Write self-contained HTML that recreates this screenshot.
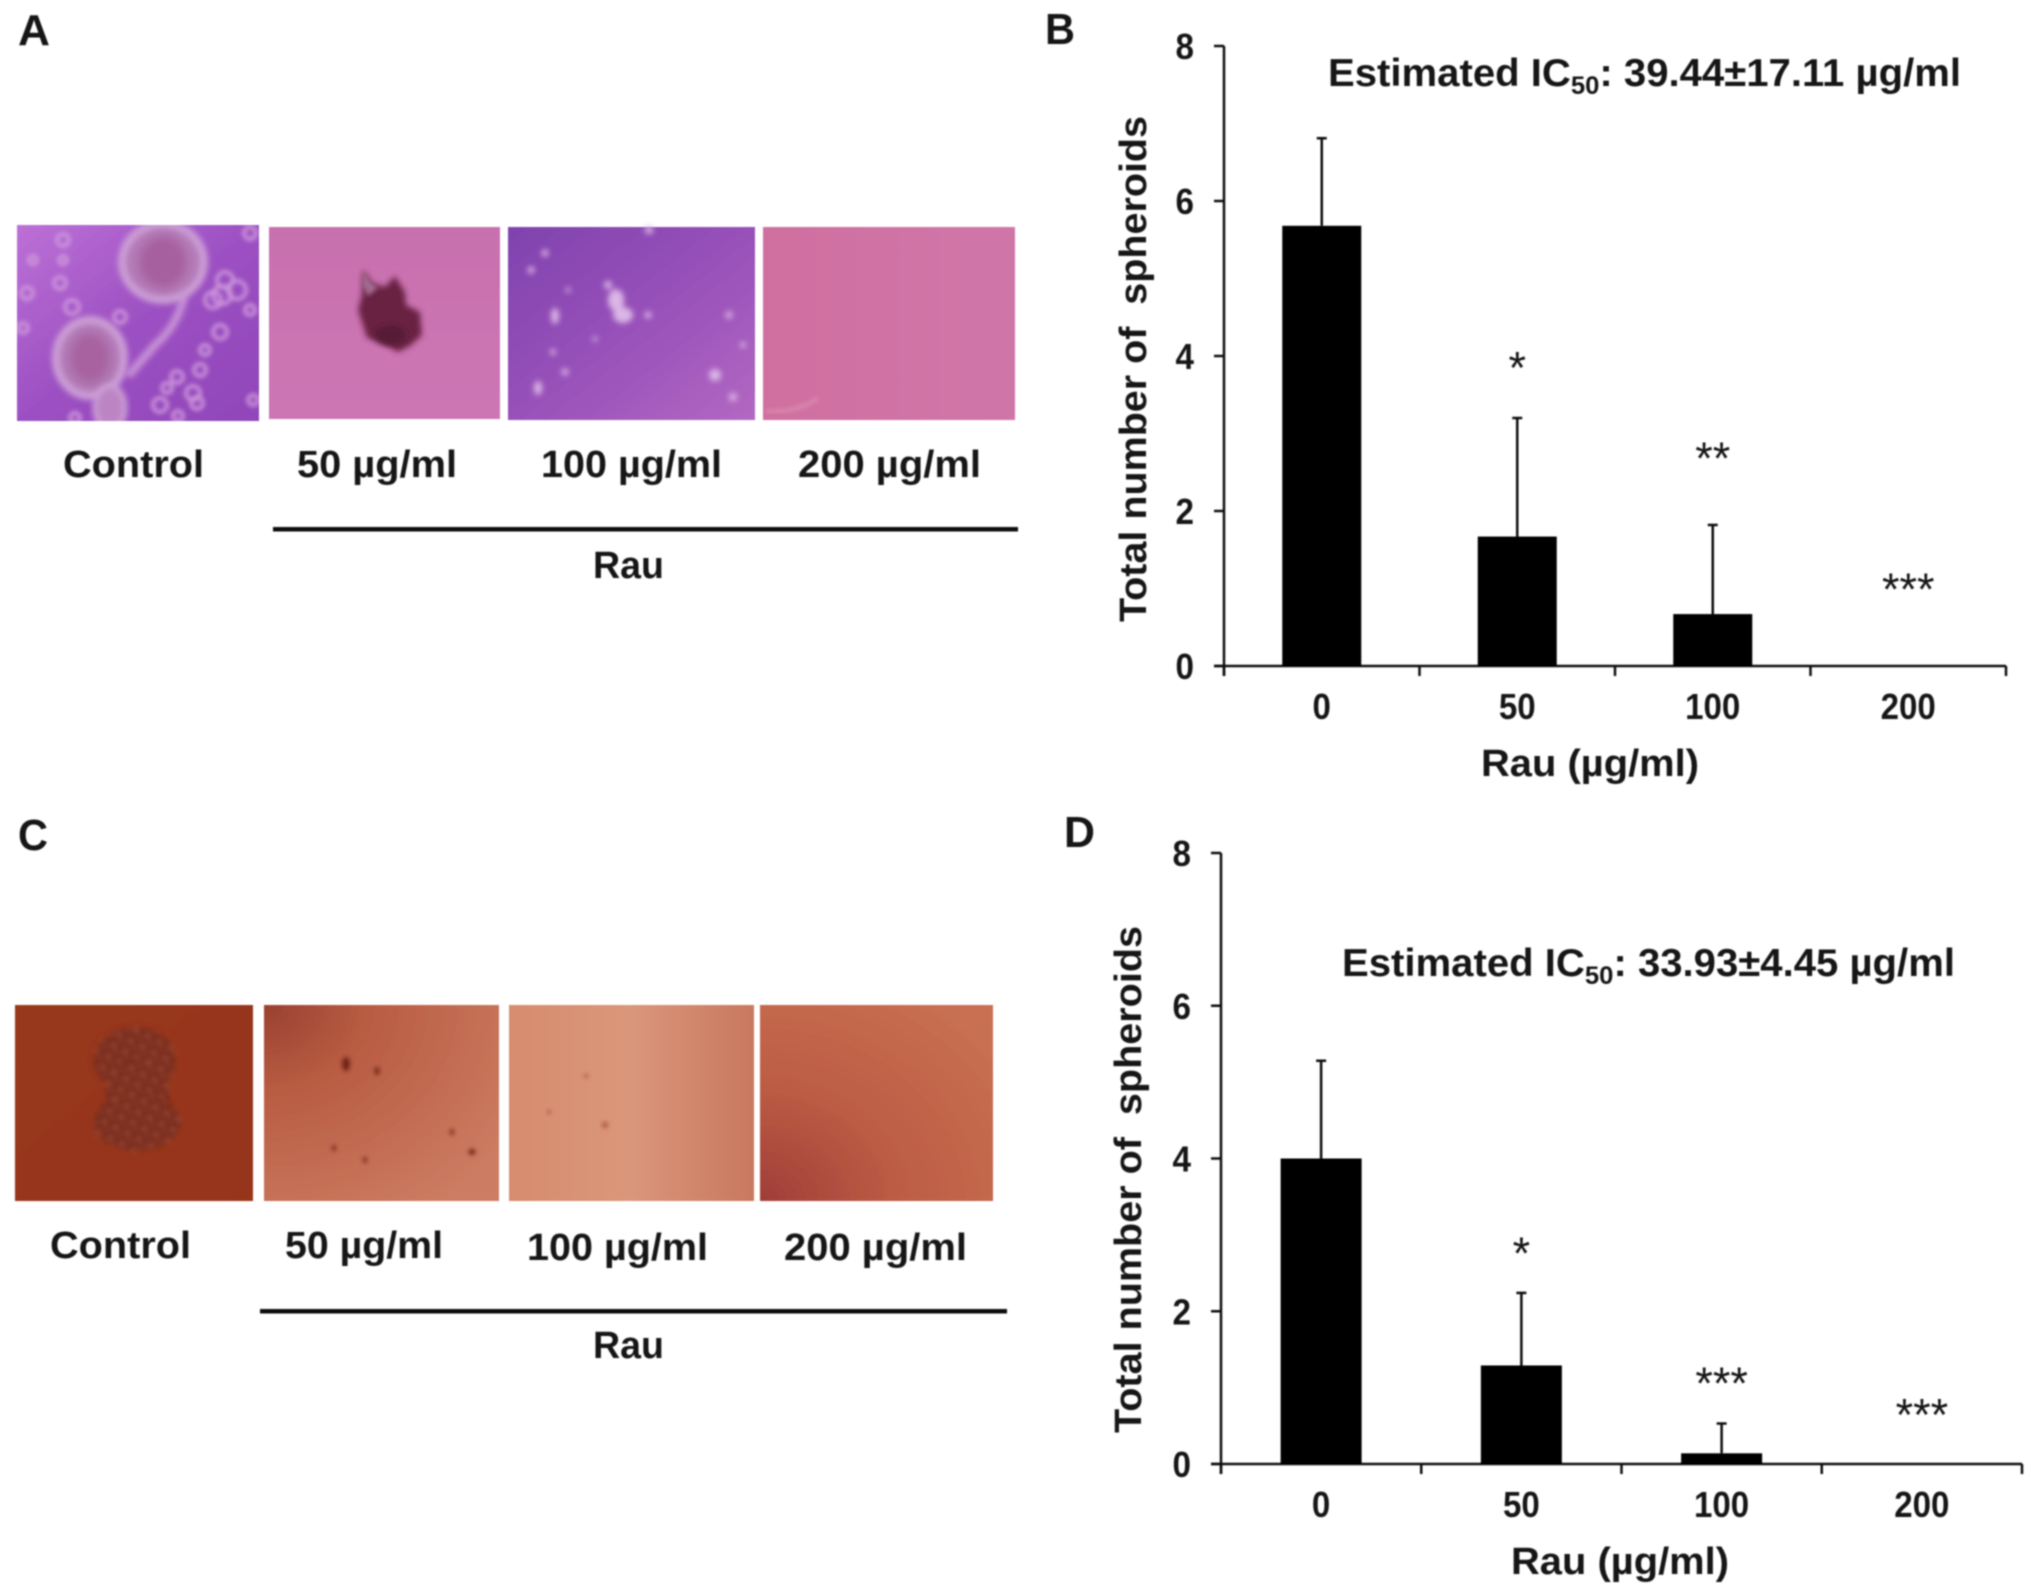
<!DOCTYPE html>
<html lang="en">
<head>
<meta charset="utf-8">
<title>Rau spheroid formation assay</title>
<style>
html,body{margin:0;padding:0;background:#fff;width:2031px;height:1592px;overflow:hidden}
svg{display:block}
text{font-family:"Liberation Sans",Arial,sans-serif;font-weight:700;fill:#141414}
</style>
</head>
<body>
<svg id="figure" xmlns="http://www.w3.org/2000/svg" width="2031" height="1592" viewBox="0 0 2031 1592">
<defs>
  <filter id="soft" x="-2%" y="-2%" width="104%" height="104%"><feGaussianBlur stdDeviation="0.7"/></filter>
  <filter id="b2" x="-20%" y="-20%" width="140%" height="140%"><feGaussianBlur stdDeviation="2"/></filter>
  <filter id="b3" x="-20%" y="-20%" width="140%" height="140%"><feGaussianBlur stdDeviation="3"/></filter>
  <filter id="b5" x="-30%" y="-30%" width="160%" height="160%"><feGaussianBlur stdDeviation="5"/></filter>
  <linearGradient id="ga1" x1="0" y1="0" x2="1" y2="1"><stop offset="0" stop-color="#bc70d6"/><stop offset=".5" stop-color="#9c50c2"/><stop offset="1" stop-color="#8f45b8"/></linearGradient>
  <linearGradient id="ga2" x1="0" y1="0" x2="0" y2="1"><stop offset="0" stop-color="#c870ae"/><stop offset="1" stop-color="#cc76b4"/></linearGradient>
  <linearGradient id="ga3" x1="0" y1="0" x2="1" y2="1"><stop offset="0" stop-color="#7f42ae"/><stop offset=".55" stop-color="#9a52ba"/><stop offset="1" stop-color="#b268c2"/></linearGradient>
  <linearGradient id="ga4" x1="0" y1="0" x2="1" y2="0"><stop offset="0" stop-color="#cf6fa0"/><stop offset="1" stop-color="#d075a8"/></linearGradient>
  <linearGradient id="gc1" x1="0" y1="0" x2="1" y2="1"><stop offset="0" stop-color="#97371f"/><stop offset="1" stop-color="#973519"/></linearGradient>
  <radialGradient id="gc2" cx="0" cy="0" r="1.25"><stop offset="0" stop-color="#9a4030"/><stop offset=".35" stop-color="#b85c42"/><stop offset="1" stop-color="#cc7c62"/></radialGradient>
  <linearGradient id="gc3" x1="0" y1="0" x2="1" y2="0"><stop offset="0" stop-color="#d68c6e"/><stop offset=".5" stop-color="#da967a"/><stop offset="1" stop-color="#c8785e"/></linearGradient>
  <radialGradient id="gc4" cx="0" cy="1" r="1.3"><stop offset="0" stop-color="#a03d38"/><stop offset=".45" stop-color="#bc5c44"/><stop offset="1" stop-color="#c97052"/></radialGradient>
  <pattern id="cells" width="13" height="12" patternUnits="userSpaceOnUse" patternTransform="rotate(27)"><rect width="13" height="12" fill="#74281a"/><circle cx="4" cy="4" r="3" fill="#a04c34"/><circle cx="10" cy="9" r="2.4" fill="#96442c"/></pattern>
  <clipPath id="clipA1"><rect x="17" y="225" width="242" height="196"/></clipPath>
</defs>
<g id="root" filter="url(#soft)">
  <text x="18" y="45" font-size="44" textLength="32" lengthAdjust="spacingAndGlyphs">A</text>
  <text x="1045" y="44" font-size="44" textLength="30" lengthAdjust="spacingAndGlyphs">B</text>
  <text x="18" y="850" font-size="44" textLength="30" lengthAdjust="spacingAndGlyphs">C</text>
  <text x="1064" y="847" font-size="44" textLength="31" lengthAdjust="spacingAndGlyphs">D</text>

  <g clip-path="url(#clipA1)">
    <rect x="17" y="225" width="242" height="196" fill="url(#ga1)"/>
    <g fill="none" stroke="#cf98dc" stroke-width="3.5" filter="url(#b2)">
      <circle cx="60" cy="283" r="6"/><circle cx="72" cy="307" r="7"/><circle cx="120" cy="317" r="6"/><circle cx="27" cy="293" r="6"/><circle cx="63" cy="240" r="6"/><circle cx="250" cy="233" r="6"/><circle cx="63" cy="260" r="4"/><circle cx="33" cy="260" r="4"/><circle cx="220" cy="332" r="7"/><circle cx="200" cy="370" r="6"/><circle cx="177" cy="377" r="6"/><circle cx="167" cy="388" r="5"/><circle cx="193" cy="393" r="7"/><circle cx="197" cy="403" r="6"/><circle cx="160" cy="405" r="7"/><circle cx="253" cy="400" r="5"/><circle cx="23" cy="328" r="5"/><circle cx="237" cy="290" r="9"/><circle cx="213" cy="300" r="8"/><circle cx="225" cy="280" r="8"/><circle cx="222" cy="295" r="9"/><circle cx="250" cy="310" r="5"/><circle cx="205" cy="350" r="5"/><circle cx="75" cy="418" r="5"/><circle cx="178" cy="416" r="5"/>
    </g>
    <path d="M184 296 Q178 325 155 345 L128 376" stroke="#c690d6" stroke-width="8" fill="none" filter="url(#b3)"/>
    <ellipse cx="163" cy="262" rx="41" ry="38" fill="#b47cb8" stroke="#cc9ed6" stroke-width="8" filter="url(#b3)"/>
    <ellipse cx="163" cy="262" rx="24" ry="26" fill="#a65f9f" filter="url(#b5)"/>
    <ellipse cx="90" cy="358" rx="34" ry="38" fill="#b27cb8" stroke="#cc9ed6" stroke-width="8" filter="url(#b3)"/>
    <ellipse cx="90" cy="358" rx="20" ry="25" fill="#a7629f" filter="url(#b5)"/>
    <ellipse cx="110" cy="408" rx="15" ry="22" fill="#bc84c2" stroke="#cc9ed6" stroke-width="5" filter="url(#b3)"/>
  </g>
  <g>
    <rect x="269" y="227" width="231" height="192" fill="url(#ga2)"/>
    <path d="M363 270 L372 283 L385 287 L395 276 L405 292 L406 305 L420 312 L422 335 L410 346 L398 352 L380 342 L367 338 L358 310 L362 295 Z" fill="#6a2443" filter="url(#b3)"/>
    <path d="M363 270 L372 283 L378 288 L368 296 L362 285 Z" fill="#a36a90" filter="url(#b2)"/>
    <ellipse cx="390" cy="335" rx="16" ry="10" fill="#561a34" filter="url(#b3)"/>
  </g>
  <g>
    <rect x="508" y="227" width="247" height="193" fill="url(#ga3)"/>
    <g fill="#dcb6e6" filter="url(#b3)">
      <circle cx="649" cy="230" r="4"/><circle cx="545" cy="253" r="3.5"/><circle cx="531" cy="270" r="3.5"/><circle cx="608" cy="285" r="4"/><ellipse cx="616" cy="300" rx="8" ry="11"/><ellipse cx="623" cy="315" rx="10" ry="8"/><circle cx="648" cy="315" r="3.5"/><ellipse cx="555" cy="316" rx="4" ry="8"/><circle cx="568" cy="290" r="2.5"/><circle cx="729" cy="315" r="3.5"/><circle cx="595" cy="339" r="2.5"/><circle cx="553" cy="352" r="3"/><circle cx="743" cy="345" r="3"/><circle cx="565" cy="372" r="3.5"/><ellipse cx="715" cy="375" rx="6" ry="6"/><ellipse cx="538" cy="388" rx="4" ry="7"/><circle cx="733" cy="397" r="4"/>
    </g>
  </g>
  <g>
    <rect x="763" y="227" width="252" height="193" fill="url(#ga4)"/>
    <path d="M766 411 Q798 413 818 398" stroke="#dd8fb0" stroke-width="3" fill="none" filter="url(#b2)"/>
  </g>

  <text x="63" y="477" font-size="38" textLength="141" lengthAdjust="spacingAndGlyphs">Control</text>
  <text x="297" y="477" font-size="38" textLength="160" lengthAdjust="spacingAndGlyphs">50 µg/ml</text>
  <text x="541" y="477" font-size="38" textLength="181" lengthAdjust="spacingAndGlyphs">100 µg/ml</text>
  <text x="798" y="477" font-size="38" textLength="183" lengthAdjust="spacingAndGlyphs">200 µg/ml</text>
  <rect x="273" y="527" width="745" height="4.5" fill="#111"/>
  <text x="593" y="578" font-size="38" textLength="71" lengthAdjust="spacingAndGlyphs">Rau</text>

  <g>
    <rect x="15" y="1005" width="238" height="196" fill="url(#gc1)"/>
    <ellipse cx="135" cy="1060" rx="41" ry="33" fill="url(#cells)" filter="url(#b3)"/>
    <ellipse cx="138" cy="1095" rx="32" ry="36" fill="url(#cells)" filter="url(#b3)"/>
    <ellipse cx="137" cy="1123" rx="44" ry="28" fill="url(#cells)" filter="url(#b3)"/>
  </g>
  <g>
    <rect x="264" y="1005" width="235" height="196" fill="url(#gc2)"/>
    <g fill="#6d2418" filter="url(#b2)">
      <ellipse cx="346" cy="1064" rx="4" ry="7"/><ellipse cx="377" cy="1071" rx="2.5" ry="4"/><ellipse cx="452" cy="1132" rx="2" ry="3"/><ellipse cx="334" cy="1148" rx="2" ry="3"/><ellipse cx="472" cy="1152" rx="3.5" ry="3"/><ellipse cx="365" cy="1160" rx="2" ry="3"/>
    </g>
  </g>
  <g>
    <rect x="509" y="1005" width="245" height="196" fill="url(#gc3)"/>
    <g fill="#a8553d" filter="url(#b2)">
      <circle cx="605" cy="1125" r="3"/><circle cx="586" cy="1076" r="2"/><circle cx="549" cy="1112" r="2"/>
    </g>
  </g>
  <g>
    <rect x="760" y="1005" width="233" height="196" fill="url(#gc4)"/>
  </g>

  <text x="50" y="1258" font-size="38" textLength="141" lengthAdjust="spacingAndGlyphs">Control</text>
  <text x="285" y="1258" font-size="38" textLength="158" lengthAdjust="spacingAndGlyphs">50 µg/ml</text>
  <text x="527" y="1260" font-size="38" textLength="181" lengthAdjust="spacingAndGlyphs">100 µg/ml</text>
  <text x="784" y="1260" font-size="38" textLength="183" lengthAdjust="spacingAndGlyphs">200 µg/ml</text>
  <rect x="260" y="1309" width="747" height="4.5" fill="#111"/>
  <text x="593" y="1358" font-size="38" textLength="71" lengthAdjust="spacingAndGlyphs">Rau</text>

  <text x="1328" y="86" font-size="39" textLength="633" lengthAdjust="spacingAndGlyphs">Estimated IC<tspan font-size="25" dy="8">50</tspan><tspan dy="-8">: 39.44±17.11 µg/ml</tspan></text>
  <text x="1342" y="976" font-size="39" textLength="613" lengthAdjust="spacingAndGlyphs">Estimated IC<tspan font-size="25" dy="8">50</tspan><tspan dy="-8">: 33.93±4.45 µg/ml</tspan></text>

  <g id="chart-b"></g>
  <g id="chart-d"></g>
</g>
</svg>
<script>
const categories = ['0', '50', '100', '200'];
const yTickLabels = [0, 2, 4, 6, 8];
const meansB = [5.68, 1.67, 0.67, 0];
const errorsB = [1.13, 1.53, 1.15, 0];
const sigMarksB = ['', '*', '**', '***'];
const sigLevelsB = [0, 3.89, 2.72, 1.03];
const meansD = [4.0, 1.29, 0.14, 0];
const errorsD = [1.28, 0.95, 0.39, 0];
const sigMarksD = ['', '*', '***', '***'];
const sigLevelsD = [0, 2.8, 1.1, 0.69];
const NS = 'http://www.w3.org/2000/svg';

function node(parent, tag, attrs, txt) {
  const el = document.createElementNS(NS, tag);
  for (const k in attrs) el.setAttribute(k, attrs[k]);
  if (txt !== undefined) el.textContent = txt;
  parent.appendChild(el);
  return el;
}

function drawChart(id, frame, means, errors, marks, levels) {
  const root = document.getElementById(id);
  const yMax = yTickLabels[yTickLabels.length - 1];
  const y = v => frame.y0 - v * (frame.y0 - frame.yTop) / yMax;
  const band = (frame.xEnd - frame.x0) / categories.length;
  const cx = i => frame.x0 + band * (i + 0.5);

  const yAxis = node(root, 'line', {x1: frame.x0, x2: frame.x0, y1: y(yMax), y2: frame.y0 + 10, stroke: '#111', 'stroke-width': 2.5});
  
  
  const xAxis = node(root, 'line', {x1: frame.x0 - 10, x2: frame.xEnd, y1: frame.y0, y2: frame.y0, stroke: '#111', 'stroke-width': 2.5});
  
  

  yTickLabels.forEach(t => {
    const tick = node(root, 'line', {x1: frame.x0 - 10, x2: frame.x0, y1: y(t), y2: y(t), stroke: '#111', 'stroke-width': 2.5});
    
    
    const lab = node(root, 'text', {x: frame.x0 - 30, y: y(t) + 13, 'font-size': 36, 'text-anchor': 'end', textLength: 18.5, lengthAdjust: 'spacingAndGlyphs'}, String(t));
    
    
  });

  for (let i = 0; i <= categories.length; i++) {
    const tx = frame.x0 + band * i;
    const tick = node(root, 'line', {x1: tx, x2: tx, y1: frame.y0, y2: frame.y0 + 10, stroke: '#111', 'stroke-width': 2.5});
    
    
  }

  categories.forEach((c, i) => {
    const bar = node(root, 'rect', {x: cx(i) - frame.barW / 2, y: y(means[i]), width: frame.barW, height: frame.y0 - y(means[i]), fill: '#000'});
    
    

    if (errors[i] > 0) {
      const top = y(means[i] + errors[i]);
      const stem = node(root, 'line', {x1: cx(i), x2: cx(i), y1: y(means[i]), y2: top, stroke: '#111', 'stroke-width': 2.5});
      
      
      const cap = node(root, 'line', {x1: cx(i) - 5, x2: cx(i) + 5, y1: top, y2: top, stroke: '#111', 'stroke-width': 2.5});
      
      
    }

    const lab = node(root, 'text', {x: cx(i), y: frame.xLabelY, 'font-size': 36, 'text-anchor': 'middle', textLength: 18.4 * c.length, lengthAdjust: 'spacingAndGlyphs'}, c);
    
    

    if (marks[i]) {
      const star = node(root, 'text', {x: cx(i), y: y(levels[i]) + 19, 'font-size': 45, 'text-anchor': 'middle', style: 'font-weight:400'}, marks[i]);
      
      
    }
  });

  const xt = node(root, 'text', {x: frame.xTitleX, y: frame.xTitleY, 'font-size': 38, textLength: 218, lengthAdjust: 'spacingAndGlyphs'}, 'Rau (µg/ml)');
  
  

  const yt = node(root, 'text', {x: 0, y: 0, 'font-size': 38, textLength: frame.yTitleLen, lengthAdjust: 'spacingAndGlyphs', transform: 'translate(' + frame.yTitleX + ' ' + frame.yTitleBottom + ') rotate(-90)', style: 'white-space:pre'}, 'Total number of  spheroids');
  
  
}

drawChart('chart-b', {x0: 1224, xEnd: 2006, y0: 666, yTop: 46, barW: 79, xLabelY: 719, xTitleX: 1481, xTitleY: 776, yTitleX: 1146, yTitleBottom: 622, yTitleLen: 506}, meansB, errorsB, sigMarksB, sigLevelsB);
drawChart('chart-d', {x0: 1221, xEnd: 2022, y0: 1464, yTop: 853, barW: 81, xLabelY: 1517, xTitleX: 1511, xTitleY: 1574, yTitleX: 1141, yTitleBottom: 1433, yTitleLen: 507}, meansD, errorsD, sigMarksD, sigLevelsD);
</script>
</body>
</html>
